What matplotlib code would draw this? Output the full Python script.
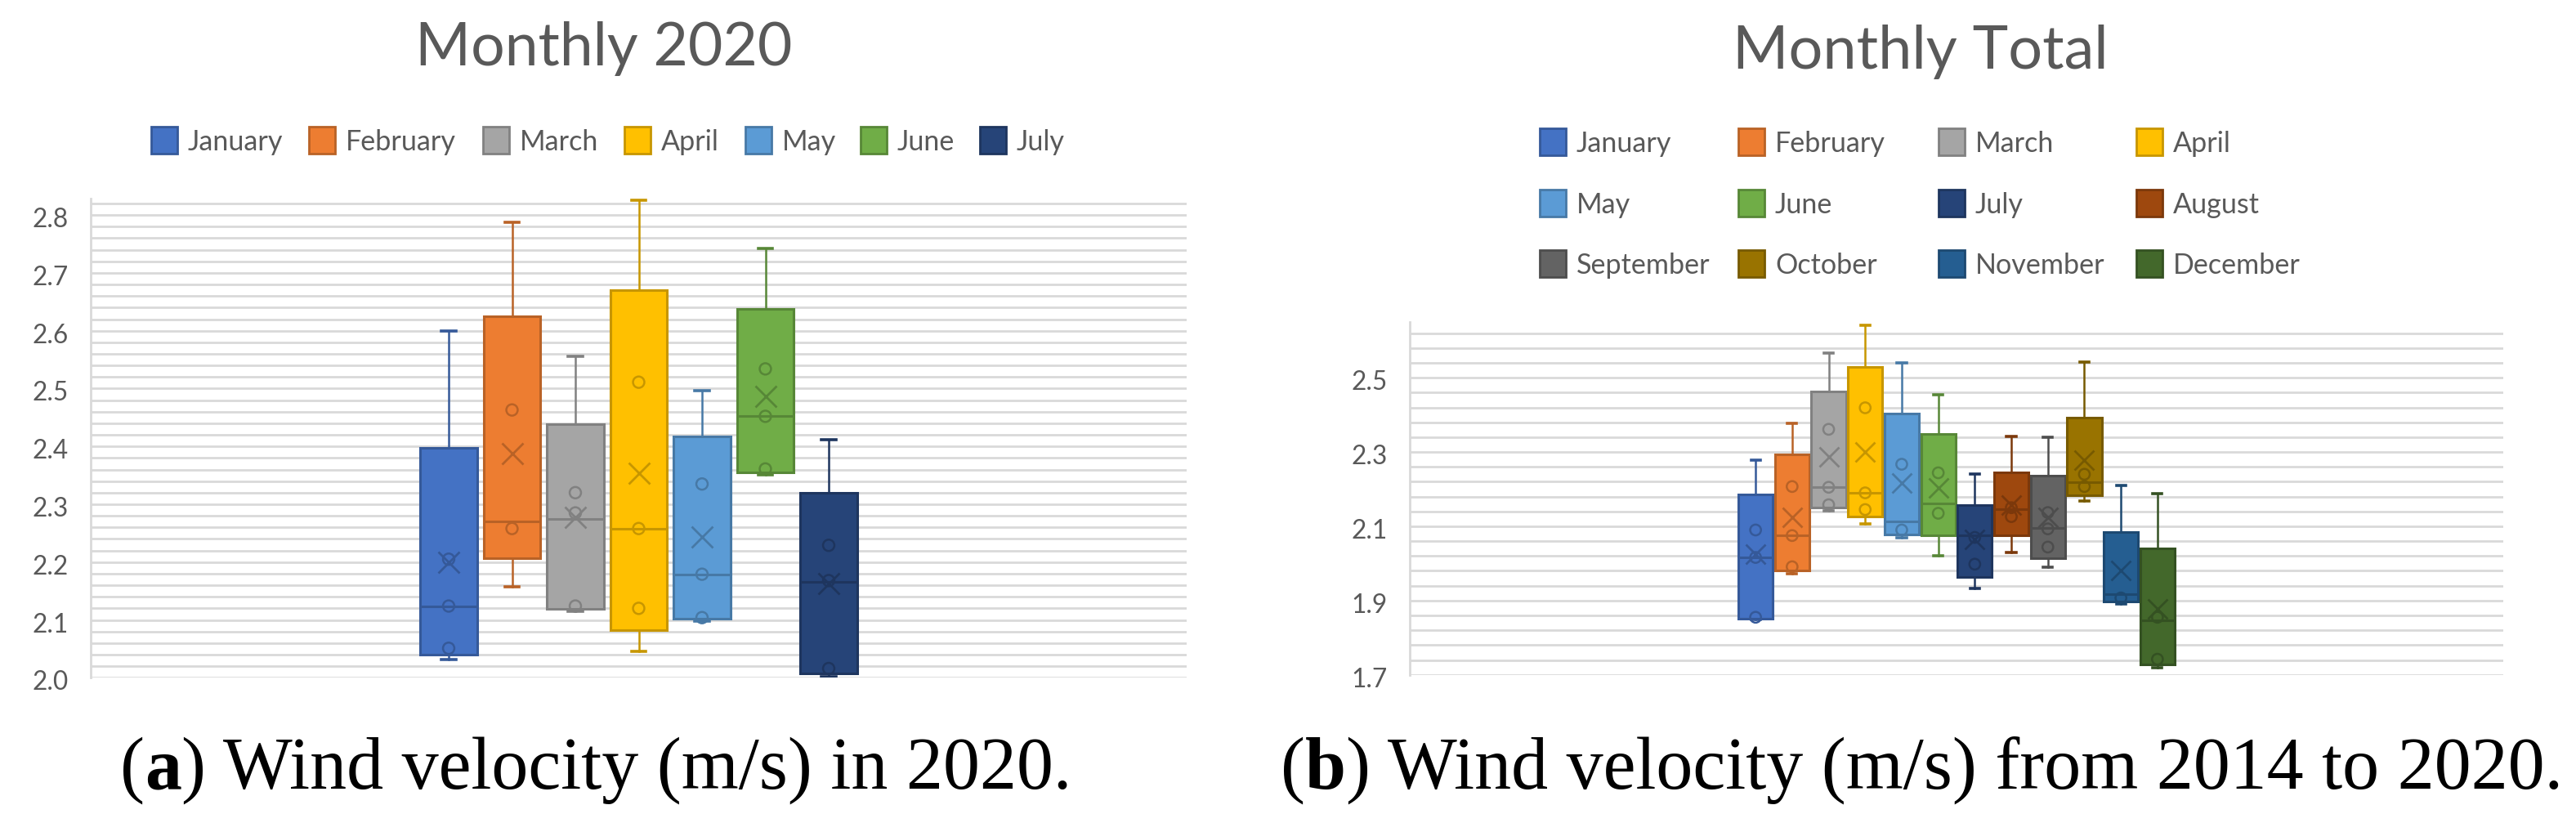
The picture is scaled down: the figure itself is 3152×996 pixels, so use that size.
import matplotlib
matplotlib.use("Agg")
import matplotlib.pyplot as plt
import matplotlib.transforms as mtransforms
from matplotlib.patches import Rectangle
import numpy as np

# ---------------- DATA ----------------
months_2020 = ["January", "February", "March", "April", "May", "June", "July"]
colors_2020 = ["#4472C4", "#ED7D31", "#A5A5A5", "#FFC000", "#5B9BD5", "#70AD47", "#264478"]
q1_2020 = [2.040, 2.207, 2.119, 2.083, 2.102, 2.355, 2.008]
med_2020 = [2.124, 2.270, 2.274, 2.258, 2.179, 2.452, 2.166]
q3_2020 = [2.398, 2.625, 2.438, 2.670, 2.417, 2.638, 2.320]
wlo_2020 = [2.032, 2.157, 2.115, 2.046, 2.098, 2.351, 2.002]
whi_2020 = [2.600, 2.787, 2.556, 2.826, 2.496, 2.742, 2.411]
mean_2020 = [2.199, 2.388, 2.278, 2.353, 2.244, 2.486, 2.163]
pts_2020 = [[2.051, 2.124, 2.205], [2.258, 2.463], [2.124, 2.285, 2.320],
            [2.120, 2.258, 2.511], [2.104, 2.179, 2.335], [2.361, 2.452, 2.534],
            [2.016, 2.168, 2.229]]
yticks_2020 = [2.0, 2.1, 2.2, 2.3, 2.4, 2.5, 2.6, 2.7, 2.8]

months_all = ["January", "February", "March", "April", "May", "June", "July",
              "August", "September", "October", "November", "December"]
colors_all = ["#4472C4", "#ED7D31", "#A5A5A5", "#FFC000", "#5B9BD5", "#70AD47",
              "#264478", "#9E480E", "#636363", "#997300", "#255E91", "#43682B"]
q1_all = [1.852, 1.981, 2.150, 2.126, 2.077, 2.075, 1.963, 2.075, 2.014, 2.183, 1.897, 1.727]
med_all = [2.016, 2.075, 2.205, 2.190, 2.114, 2.161, 2.075, 2.146, 2.096, 2.219, 1.918, 1.846]
q3_all = [2.186, 2.293, 2.463, 2.529, 2.404, 2.348, 2.157, 2.245, 2.237, 2.392, 2.085, 2.041]
wlo_all = [1.848, 1.973, 2.142, 2.106, 2.068, 2.020, 1.932, 2.029, 1.989, 2.167, 1.890, 1.720]
whi_all = [2.278, 2.378, 2.566, 2.641, 2.539, 2.454, 2.241, 2.342, 2.340, 2.542, 2.209, 2.187]
mean_all = [2.024, 2.123, 2.286, 2.300, 2.216, 2.203, 2.064, 2.156, 2.123, 2.277, 1.980, 1.877]
pts_all = [[1.855, 2.016, 2.090], [1.991, 2.075, 2.207], [2.158, 2.205, 2.361],
           [2.145, 2.190, 2.419], [2.090, 2.267], [2.135, 2.244], [1.998, 2.070],
           [2.126, 2.150], [2.044, 2.093, 2.137], [2.207, 2.240], [1.907],
           [1.742, 1.855]]
yticks_all = [1.7, 1.9, 2.1, 2.3, 2.5]

title_a = "Monthly 2020"
title_b = "Monthly Total"
caption_a = [("(", "normal"), ("a", "bold"), (") Wind velocity (m/s) in 2020.", "normal")]
caption_b = [("(", "normal"), ("b", "bold"), (") Wind velocity (m/s) from 2014 to 2020.", "normal")]

# ---------------- FIGURE ----------------
W, H = 3152, 996
fig = plt.figure(figsize=(W / 100, H / 100), dpi=100, facecolor="white")
renderer = fig.canvas.get_renderer()
SANS = ["Lato", "DejaVu Sans"]
SERIF = ["Liberation Serif", "DejaVu Serif"]
TXT = "#595959"
GRID = "#d9d9d9"


def fx(px):
    return px / W


def fy(py):
    return 1 - py / H


def darker(c, f=0.78):
    r, g, b = matplotlib.colors.to_rgb(c)
    return (r * f, g * f, b * f)


def add_axes_px(x0, y0, x1, y1):
    return fig.add_axes([fx(x0), fy(y1), (x1 - x0) / W, (y1 - y0) / H])


def draw_panel(ax, colors, q1, med, q3, wlo, whi, mean, pts, ylim, yticks,
               minor_step, spacing_units, width, capw, xsize, psize):
    n = len(colors)
    pos = np.arange(1, n + 1)
    stats = []
    for i in range(n):
        stats.append(dict(med=med[i], q1=q1[i], q3=q3[i], whislo=wlo[i],
                          whishi=whi[i], mean=mean[i], fliers=[]))
    bp = ax.bxp(stats, positions=pos, widths=width, capwidths=capw,
                patch_artist=True, showmeans=True, manage_ticks=False,
                showfliers=False)
    for i, c in enumerate(colors):
        d = darker(c)
        bp["boxes"][i].set(facecolor=c, edgecolor=d, linewidth=2.2, zorder=3)
        bp["medians"][i].set(color=d, linewidth=2.2, zorder=4)
        for k in (2 * i, 2 * i + 1):
            bp["whiskers"][k].set(color=d, linewidth=1.8, zorder=2)
            bp["caps"][k].set(color=d, linewidth=2.6, zorder=2)
        bp["means"][i].set(marker="x", markersize=xsize, markeredgecolor=d,
                           markeredgewidth=2.0, markerfacecolor="none", zorder=5)
        ax.scatter(np.full(len(pts[i]), pos[i]), pts[i], s=psize ** 2,
                   facecolors="none", edgecolors=[d], linewidths=1.8, zorder=5)
    center = (n + 1) / 2
    ax.set_xlim(center - spacing_units / 2, center + spacing_units / 2)
    ax.set_ylim(*ylim)
    ax.set_yticks(yticks)
    ax.set_yticklabels([f"{v:.1f}" for v in yticks])
    grid_vals = np.arange(ylim[0], ylim[1] - 1e-6, minor_step)
    for g in grid_vals:
        ax.axhline(g, color=GRID, linewidth=2.0, zorder=0)
    ax.set_xticks([])
    for s in ("top", "right", "bottom"):
        ax.spines[s].set_visible(False)
    ax.spines["left"].set(color=GRID, linewidth=2.0)
    ax.tick_params(axis="y", length=0, pad=19.5, labelsize=22.8, labelcolor=TXT)
    off = mtransforms.ScaledTranslation(0, -3 / 100, fig.dpi_scale_trans)
    for lab in ax.get_yticklabels():
        lab.set_fontfamily(SANS)
        lab.set_transform(lab.get_transform() + off)
    ax.set_facecolor("white")


# Left panel
axA = add_axes_px(111, 243.3, 1452, 829.3)
draw_panel(axA, colors_2020, q1_2020, med_2020, q3_2020, wlo_2020, whi_2020,
           mean_2020, pts_2020, (2.0, 2.828), yticks_2020, 0.02,
           1341 / 77.5, 0.90, 0.23, 19, 10)

# Right panel
axB = add_axes_px(1725, 394, 3063, 825.7)
draw_panel(axB, colors_all, q1_all, med_all, q3_all, wlo_all, whi_all,
           mean_all, pts_all, (1.7, 2.65), yticks_all, 0.04,
           1338 / 44.7, 0.944, 0.25, 17, 9.5)


# ---------------- TEXT HELPERS ----------------
def fit_text(xc, yb, s, width, size0, **kw):
    t = fig.text(fx(xc), fy(yb), s, fontsize=size0, ha="center", va="baseline", **kw)
    w = t.get_window_extent(renderer).width
    t.set_fontsize(size0 * width / w)
    return t


def chain_text(x0, yb, segs, total_width, size0, family):
    def place(size):
        arts = []
        cur = x0
        for s, wt in segs:
            t = fig.text(fx(cur), fy(yb), s, fontsize=size, fontweight=wt,
                         family=family, ha="left", va="baseline", color="black")
            cur += t.get_window_extent(renderer).width
            arts.append(t)
        return arts, cur - x0
    arts, w = place(size0)
    for a in arts:
        a.remove()
    arts, w = place(size0 * total_width / w)
    return arts


# Titles
fit_text(739, 80, title_a, 462, 50, family=SANS, fontweight="normal", color=TXT)
fit_text(2350, 84, title_b, 459, 50, family=SANS, fontweight="normal", color=TXT)

# Legend font size from "January" width
tmp = fig.text(0, 0, "January", fontsize=27, family=SANS)
leg_size = 27 * 117 / tmp.get_window_extent(renderer).width
tmp.remove()


def legend_entry(xp, ytop, label, color):
    fig.add_artist(Rectangle((fx(xp), fy(ytop + 33)), 32 / W, 33 / H,
                             transform=fig.transFigure, facecolor=color,
                             edgecolor=darker(color), linewidth=2.0))
    fig.text(fx(xp + 45), fy(ytop + 29), label, fontsize=leg_size, family=SANS,
             color=TXT, ha="left", va="baseline")


leg_x_a = [185, 378, 591, 764, 912, 1053, 1199]
for i, m in enumerate(months_2020):
    legend_entry(leg_x_a[i], 155, m, colors_2020[i])

leg_cols_b = [1884, 2127, 2372, 2614]
leg_rows_b = [157, 232, 306]
for i, m in enumerate(months_all):
    legend_entry(leg_cols_b[i % 4], leg_rows_b[i // 4], m, colors_all[i])

# Captions
chain_text(146.7, 965, caption_a, 1311 - 146.7, 60, SERIF)
chain_text(1566.7, 965, caption_b, 3138 - 1566.7, 60, SERIF)

fig.savefig("out.png", dpi=100, facecolor="white")
